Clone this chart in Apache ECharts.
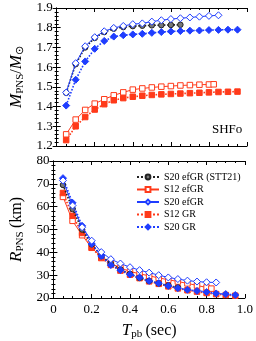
<!DOCTYPE html>
<html><head><meta charset="utf-8">
<script src="https://cdn.jsdelivr.net/npm/echarts@6/dist/echarts.min.js"></script>
<style>html,body{margin:0;padding:0;background:#fff}#c{width:256px;height:341px}</style>
</head><body><div id="c"></div>
<script>
// ---- data ----
const tSTT21 = [0.05,0.10,0.15,0.20,0.25,0.30,0.35,0.40,0.45,0.50,0.55,0.60,0.65];
const mSTT21 = [1.47,1.615,1.70,1.748,1.778,1.795,1.803,1.808,1.810,1.812,1.813,1.814,1.815];
const rSTT21 = [69.5,59,50,43.5,38.5,35,32.5,30.5,28.8,27.5,26.4,25.5,24.6];

const tS12efGR = [0.05,0.10,0.15,0.20,0.25,0.30,0.35,0.40,0.45,0.50,0.55,0.60,0.65,0.70,0.75,0.80,0.825];
const mS12efGR = [1.259,1.334,1.383,1.415,1.437,1.457,1.472,1.486,1.492,1.497,1.501,1.504,1.507,1.509,1.511,1.512,1.513];
const rS12efGR = [64.3,53.8,47.5,42,38,35.2,33.2,31.6,30.6,29.7,28.8,28,27.2,26.4,25.5,24.6,24.1];

const tS20efGR = [0.05,0.10,0.15,0.20,0.25,0.30,0.35,0.40,0.45,0.50,0.55,0.60,0.65,0.70,0.75,0.80,0.85];
const mS20efGR = [1.471,1.62,1.706,1.752,1.782,1.799,1.809,1.818,1.822,1.831,1.838,1.844,1.848,1.852,1.856,1.860,1.863];
const rS20efGR = [71.5,60.5,51,45.1,40.1,37,35.1,33.5,32.2,31.1,30,29,28.3,27.6,27.2,26.9,26.8];

const tGR = [0.05,0.10,0.15,0.20,0.25,0.30,0.35,0.40,0.45,0.50,0.55,0.60,0.65,0.70,0.75,0.80,0.85,0.90,0.95];
const mS12GR = [1.23,1.30,1.347,1.385,1.412,1.432,1.443,1.450,1.455,1.459,1.462,1.464,1.466,1.468,1.470,1.472,1.474,1.475,1.476];
const rS12GR = [66,56,48.5,42,37.5,34.5,32,30.2,28.7,27.3,26.2,25.1,24.2,23.4,22.8,22.2,21.7,21.3,21.0];
const mS20GR = [1.405,1.536,1.629,1.693,1.733,1.755,1.762,1.766,1.769,1.774,1.778,1.781,1.783,1.785,1.786,1.788,1.789,1.790,1.790];
const rS20GR = [72.5,61.7,51.6,43.7,38.4,34.4,32.2,30.3,29,27.5,26.5,25.3,24.3,23.6,23.1,22.6,22,21.7,21.3];

const names = ['S20 efGR (STT21)','S12 efGR','S20 efGR','S12 GR','S20 GR'];
const xTicks = [0,0.2,0.4,0.6,0.8,1.0];

// ---- chart ----
const RED = '#ff3a1a', BLUE = '#1f3dff', BLACK = '#222';
const SERIF = 'Times New Roman';
const pair = (t, v) => t.map((x, i) => [x, v[i]]);

const styles = [
  {color: BLACK, type: 'dotted', symbol: 'circle', fill: '#777', border: BLACK, size: 5.5, z: 3},
  {color: RED, type: 'solid', symbol: 'rect', fill: '#fff', border: RED, size: 5.5, z: 2},
  {color: BLUE, type: 'solid', symbol: 'diamond', fill: '#fff', border: BLUE, size: 7, z: 4},
  {color: RED, type: 'dotted', symbol: 'rect', fill: RED, border: RED, size: 5.5, z: 2},
  {color: BLUE, type: 'dotted', symbol: 'diamond', fill: BLUE, border: BLUE, size: 7, z: 3},
];
const tData = [tSTT21, tS12efGR, tS20efGR, tGR, tGR];
const mData = [mSTT21, mS12efGR, mS20efGR, mS12GR, mS20GR];
const rData = [rSTT21, rS12efGR, rS20efGR, rS12GR, rS20GR];

function mk(i, gi, vals) {
  const s = styles[i];
  return {
    type: 'line', name: names[i], xAxisIndex: gi * 2, yAxisIndex: gi * 2,
    data: pair(tData[i], vals), symbol: s.symbol, symbolSize: s.size, z: s.z,
    showAllSymbol: true, animation: false,
    lineStyle: {color: s.color, width: s.type === 'solid' ? 1 : 1.6, type: s.type},
    itemStyle: {color: s.fill, borderColor: s.border, borderWidth: 1}
  };
}
const series = [];
for (let i = 0; i < 5; i++) series.push(mk(i, 0, mData[i]));
for (let i = 0; i < 5; i++) series.push(mk(i, 1, rData[i]));

const axLine = {show: true, lineStyle: {color: '#000', width: 1}};
const tick = {show: true, inside: true, length: 4, lineStyle: {color: '#000'}};
const minor = {show: true, length: 2, lineStyle: {color: '#000'}};
const lab = {color: '#000', fontFamily: SERIF, fontSize: 13};

function xAx(gi, mirror, showLab) {
  return {
    type: 'value', gridIndex: gi, min: 0, max: 1, interval: 0.2,
    position: mirror ? 'top' : 'bottom',
    axisLine: axLine, axisTick: tick, minorTick: Object.assign({splitNumber: 4}, minor),
    splitLine: {show: false},
    axisLabel: Object.assign({show: showLab, margin: 5, formatter: v => v === 0 ? '0' : v.toFixed(1)}, lab)
  };
}
function yAx(gi, mirror, opt) {
  return Object.assign({
    type: 'value', gridIndex: gi, position: mirror ? 'right' : 'left',
    axisLine: axLine, axisTick: tick, minorTick: Object.assign({splitNumber: 5}, minor),
    splitLine: {show: false},
    axisLabel: Object.assign({show: !mirror, margin: 4}, lab)
  }, opt);
}
const nameRich = {
  i: {fontFamily: SERIF, fontStyle: 'italic', fontSize: 17, color: '#000'},
  s: {fontFamily: SERIF, fontSize: 11, color: '#000', padding: [7, 0, 0, 0]},
  n: {fontFamily: SERIF, fontSize: 16, color: '#000'}
};

const xAxes = [xAx(0, false, false), xAx(0, true, false), xAx(1, false, true), xAx(1, true, false)];
xAxes[2].name = '{i|T}{s|pb} {n|(sec)}';
xAxes[2].nameLocation = 'middle';
xAxes[2].nameGap = 24;
xAxes[2].nameTextStyle = {rich: nameRich};

const yTop = {min: 1.2, max: 1.9, interval: 0.1, axisLabel: Object.assign({show: true, margin: 4, formatter: v => v.toFixed(1)}, lab)};
const yBot = {min: 20, max: 80, interval: 10};
const yAxes = [
  yAx(0, false, Object.assign({name: '{i|M}{s|PNS}{n|/}{i|M}{s|⊙}', nameLocation: 'middle', nameGap: 24, nameTextStyle: {rich: nameRich}}, yTop)),
  yAx(0, true, {min: 1.2, max: 1.9, interval: 0.1}),
  yAx(1, false, Object.assign({name: '{i|R}{s|PNS} {n|(km)}', nameLocation: 'middle', nameGap: 21, nameTextStyle: {rich: nameRich}}, yBot)),
  yAx(1, true, yBot)
];
const option = {
  animation: false,
  backgroundColor: '#fff',
  grid: [
    {left: 41, top: 8, width: 206, height: 138},
    {left: 41, top: 161, width: 206, height: 138}
  ],
  xAxis: xAxes,
  yAxis: yAxes,
  legend: {
    data: names, orient: 'vertical', left: 136, top: 172, padding: 0,
    itemWidth: 22, itemHeight: 6, itemGap: 2.5,
    textStyle: {fontFamily: SERIF, fontSize: 10, color: '#000', padding: [0, 0, 0, 0]}
  },
  graphic: [{type: 'text', left: 212, top: 123, style: {text: 'SHFo', fontFamily: SERIF, fontSize: 13, fill: '#000'}}],
  series: series
};
const chart = echarts.init(document.getElementById('c'), null, {renderer: 'canvas'});
chart.setOption(option);
</script></body></html>
